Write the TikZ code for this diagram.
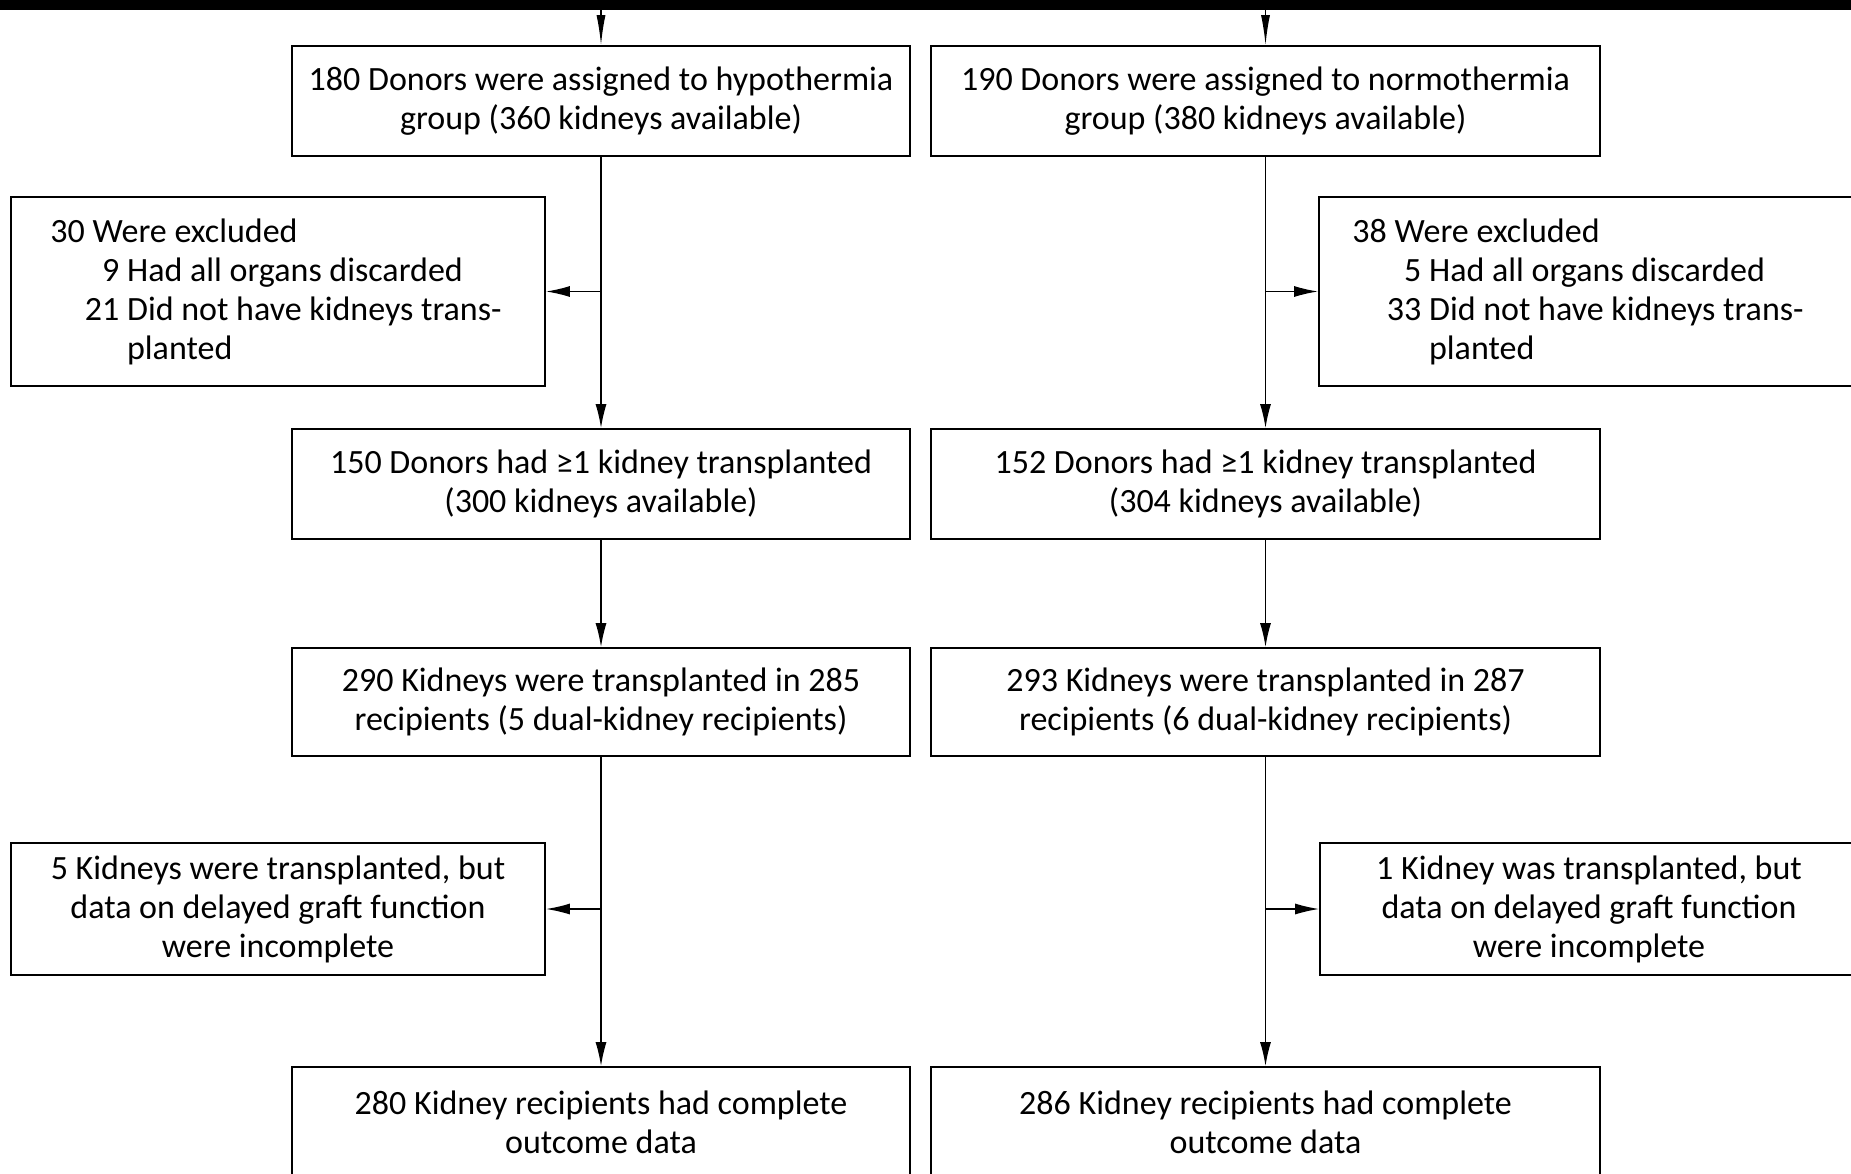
\documentclass[tikz,border=0pt]{standalone}
\usepackage{fontspec}
\setmainfont{Carlito}
\usetikzlibrary{arrows.meta}
\newcommand{\numitem}[2]{\hspace*{34pt}\makebox[35pt][r]{#1} #2}
\begin{document}
\begin{tikzpicture}[x=1pt,y=-1pt,
  box/.style={draw, line width=1.6pt, align=center, inner sep=0pt,
    font=\fontsize{34}{39}\selectfont},
  txt/.style={align=left, inner sep=0pt, anchor=west,
    font=\fontsize{34}{39}\selectfont},
  arr/.style={line width=1.6pt, -{Latex[length=24pt,width=11pt]}},
  toparr/.style={line width=1.6pt, -{Latex[length=30pt,width=9pt]}}]
\useasboundingbox (0,0) rectangle (1851,1174);
\begin{scope}
\clip (0,0) rectangle (1851,1174);
\fill[black] (0,0) rectangle (1851,10);
\coordinate (tL) at (601,10);
\coordinate (tR) at (1265.5,10);
% main boxes
\node[box, minimum width=618pt, minimum height=110pt] (b1L) at (601,101)
  {180 Donors were assigned to hypothermia\\group (360 kidneys available)};
\node[box, minimum width=669pt, minimum height=110pt] (b1R) at (1265.5,101)
  {190 Donors were assigned to normothermia\\group (380 kidneys available)};
\node[box, minimum width=618pt, minimum height=110pt] (b2L) at (601,484)
  {150 Donors had ≥1 kidney transplanted\\(300 kidneys available)};
\node[box, minimum width=669pt, minimum height=110pt] (b2R) at (1265.5,484)
  {152 Donors had ≥1 kidney transplanted\\(304 kidneys available)};
\node[box, minimum width=618pt, minimum height=108pt] (b3L) at (601,702)
  {290 Kidneys were transplanted in 285\\recipients (5 dual-kidney recipients)};
\node[box, minimum width=669pt, minimum height=108pt] (b3R) at (1265.5,702)
  {293 Kidneys were transplanted in 287\\recipients (6 dual-kidney recipients)};
\node[box, minimum width=618pt, minimum height=110pt] (b4L) at (601,1122)
  {280 Kidney recipients had complete\\outcome data};
\node[box, minimum width=669pt, minimum height=110pt] (b4R) at (1265.5,1122)
  {286 Kidney recipients had complete\\outcome data};
% exclusion boxes
\node[box, minimum width=534pt, minimum height=189pt] (x1L) at (278,291.5) {};
\node[txt] (x1Lt) at ([xshift=40pt]x1L.west)
  {30 Were excluded\\
   \numitem{9}{Had all organs discarded}\\
   \numitem{21}{Did not have kidneys trans-}\\
   \numitem{}{planted}};
\node[box, minimum width=539pt, minimum height=189pt] (x1R) at (1588.5,291.5) {};
\node[txt] (x1Rt) at ([xshift=34pt]x1R.west)
  {38 Were excluded\\
   \numitem{5}{Had all organs discarded}\\
   \numitem{33}{Did not have kidneys trans-}\\
   \numitem{}{planted}};
\node[box, minimum width=534pt, minimum height=132pt] (x2L) at (278,909)
  {5 Kidneys were transplanted, but\\data on delayed graft function\\were incomplete};
\node[box, minimum width=538pt, minimum height=132pt] (x2R) at (1589,909)
  {1 Kidney was transplanted, but\\data on delayed graft function\\were incomplete};
% connectors
\draw[toparr] (tL) -- (b1L.north);
\draw[toparr] (tR) -- (b1R.north);
\draw[arr] (b1L) -- (b2L);
\draw[arr] (b1R) -- (b2R);
\draw[arr] (b2L) -- (b3L);
\draw[arr] (b2R) -- (b3R);
\draw[arr] (b3L) -- (b4L);
\draw[arr] (b3R) -- (b4R);
\draw[arr] (b1L.south |- x1L.east) -- (x1L.east);
\draw[arr] (b1R.south |- x1R.west) -- (x1R.west);
\draw[arr] (b3L.south |- x2L.east) -- (x2L.east);
\draw[arr] (b3R.south |- x2R.west) -- (x2R.west);
\end{scope}
\end{tikzpicture}
\end{document}
